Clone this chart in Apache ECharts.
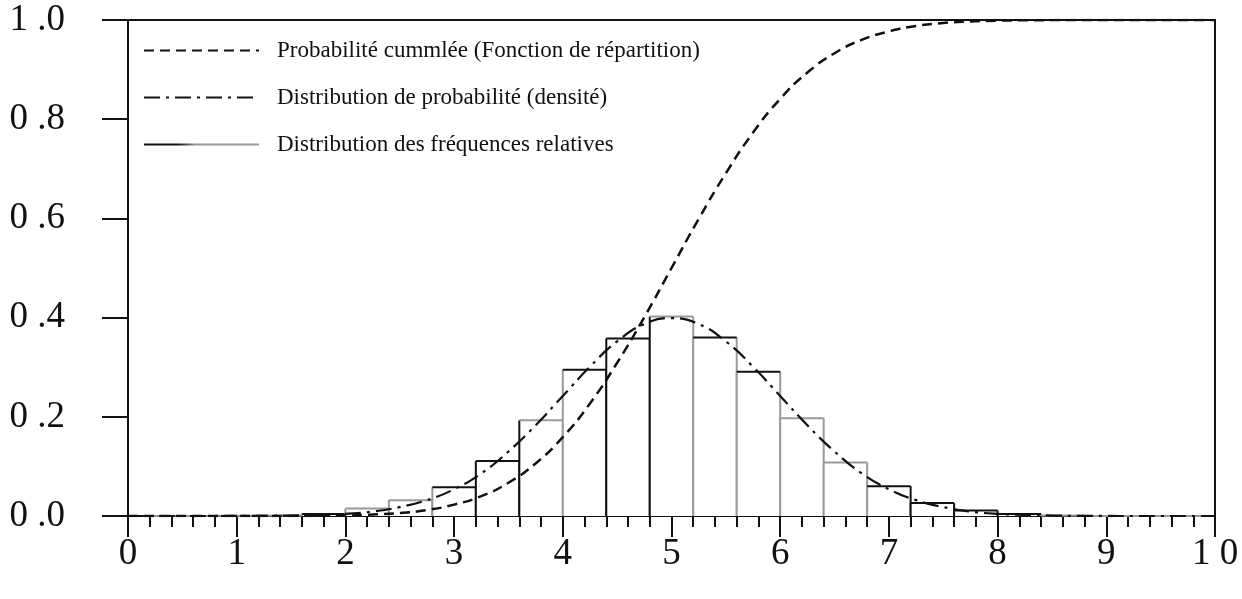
<!DOCTYPE html>
<html>
<head>
<meta charset="utf-8">
<script src="https://cdn.jsdelivr.net/npm/echarts@6/dist/echarts.min.js"></script>
<style>
  html, body { margin: 0; padding: 0; background: #ffffff; }
  #chart { width: 1242px; height: 599px; }
</style>
</head>
<body>
<div id="chart"></div>
<script>
// ---- Data ----
const legendNames = [
  'Probabilité cummlée (Fonction de répartition)',
  'Distribution de probabilité (densité)',
  'Distribution des fréquences relatives'
];
// histogram bins (left edge, right edge) and relative frequencies
const binStart = [0, 0.4, 0.8, 1.2, 1.6, 2.0, 2.4, 2.8, 3.2, 3.6, 4.0, 4.4, 4.8, 5.2, 5.6, 6.0, 6.4, 6.8, 7.2, 7.6, 8.0, 8.4, 8.8, 9.2, 9.6];
const binEnd   = [0.4, 0.8, 1.2, 1.6, 2.0, 2.4, 2.8, 3.2, 3.6, 4.0, 4.4, 4.8, 5.2, 5.6, 6.0, 6.4, 6.8, 7.2, 7.6, 8.0, 8.4, 8.8, 9.2, 9.6, 10.0];
const binFreq  = [0, 0, 0.0005, 0.001, 0.004, 0.015, 0.032, 0.058, 0.111, 0.193, 0.295, 0.358, 0.402, 0.360, 0.291, 0.197, 0.108, 0.060, 0.026, 0.011, 0.004, 0.001, 0, 0, 0];
// curves sampled every 0.25
const curveX = [0, 0.25, 0.5, 0.75, 1, 1.25, 1.5, 1.75, 2, 2.25, 2.5, 2.75, 3, 3.25, 3.5, 3.75, 4, 4.25, 4.5, 4.75, 5,
                5.25, 5.5, 5.75, 6, 6.25, 6.5, 6.75, 7, 7.25, 7.5, 7.75, 8, 8.25, 8.5, 8.75, 9, 9.25, 9.5, 9.75, 10];
const densityY = [0, 0, 0, 0, 0.0001, 0.0004, 0.0009, 0.002, 0.0044, 0.009, 0.018, 0.032, 0.054, 0.086, 0.13, 0.183, 0.242, 0.301, 0.352, 0.387, 0.399,
                  0.387, 0.352, 0.301, 0.242, 0.183, 0.13, 0.086, 0.054, 0.032, 0.018, 0.009, 0.0044, 0.002, 0.0009, 0.0004, 0.0001, 0, 0, 0, 0];
const cdfY = [0, 0, 0, 0, 0, 0, 0, 0.0006, 0.0013, 0.003, 0.006, 0.012, 0.023, 0.040, 0.067, 0.106, 0.159, 0.227, 0.309, 0.401, 0.5,
              0.599, 0.691, 0.773, 0.841, 0.894, 0.933, 0.960, 0.977, 0.988, 0.994, 0.997, 0.9987, 0.9994, 0.9998, 1, 1, 1, 1, 1, 1];
const xTicks = ['0', '1', '2', '3', '4', '5', '6', '7', '8', '9', '1 0'];
const yTicks = ['0 .0', '0 .2', '0 .4', '0 .6', '0 .8', '1 .0'];

// ---- Styles (separate from data) ----
const BLACK = '#111111';
const GREY = '#9a9a9a';
// colour of each vertical bin boundary (26 boundaries) and of each bin top
const edgeColors = [GREY, GREY, GREY, GREY, GREY, GREY, GREY, GREY, BLACK, BLACK, GREY, BLACK, BLACK, GREY, GREY, GREY, GREY, GREY, BLACK, BLACK, BLACK, GREY, GREY, GREY, GREY, GREY];
const topColors  = [GREY, GREY, GREY, GREY, BLACK, GREY, GREY, BLACK, BLACK, GREY, BLACK, BLACK, GREY, BLACK, BLACK, GREY, GREY, BLACK, BLACK, BLACK, BLACK, GREY, GREY, GREY, GREY];

const serif = '"Liberation Serif", "DejaVu Serif", serif';

const histData = binStart.map((s, i) => [s, binEnd[i], binFreq[i], i]);
const densityData = curveX.map((x, i) => [x, densityY[i]]);
const cdfData = curveX.map((x, i) => [x, cdfY[i]]);

const chart = echarts.init(document.getElementById('chart'), null, { renderer: 'canvas' });

chart.setOption({
  animation: false,
  backgroundColor: '#ffffff',
  grid: {
    left: 128, right: 27, top: 20, bottom: 83,
    show: true, borderColor: BLACK, borderWidth: 2, backgroundColor: 'transparent'
  },
  legend: {
    data: legendNames,
    orient: 'vertical',
    left: 138,
    top: 34,
    itemWidth: 115,
    itemHeight: 20,
    itemGap: 24,
    selectedMode: false,
    itemStyle: { color: 'transparent', borderColor: 'transparent', borderWidth: 0, opacity: 0 },
    textStyle: { fontFamily: serif, fontSize: 23, color: BLACK, padding: [0, 0, 0, 13] }
  },
  xAxis: {
    type: 'value',
    min: 0, max: 10, interval: 1,
    axisLine: { show: true, lineStyle: { color: BLACK, width: 2 } },
    axisTick: { show: true, length: 21, lineStyle: { color: BLACK, width: 2 } },
    minorTick: { show: true, splitNumber: 5, length: 11, lineStyle: { color: BLACK, width: 2 } },
    splitLine: { show: false },
    axisLabel: {
      margin: 20, fontFamily: serif, fontSize: 37, color: BLACK,
      formatter: (v) => xTicks[Math.round(v)]
    }
  },
  yAxis: {
    type: 'value',
    min: 0, max: 1, interval: 0.2,
    axisLine: { show: true, lineStyle: { color: BLACK, width: 2 } },
    axisTick: { show: true, length: 26, lineStyle: { color: BLACK, width: 2 } },
    splitLine: { show: false },
    axisLabel: {
      margin: 63, fontFamily: serif, fontSize: 37, color: BLACK,
      formatter: (v) => yTicks[Math.round(v * 5)]
    }
  },
  series: [
    {
      name: 'histogramme',
      type: 'custom',
      encode: { x: [0, 1], y: 2 },
      data: histData,
      z: 2,
      renderItem: function (params, api) {
        const x0 = api.value(0), x1 = api.value(1), y = api.value(2), idx = api.value(3);
        const p0 = api.coord([x0, 0]);
        const p1 = api.coord([x1, y]);
        return {
          type: 'group',
          children: [
            { type: 'rect', shape: { x: p0[0], y: p1[1], width: p1[0] - p0[0], height: p0[1] - p1[1] },
              style: { fill: '#ffffff', stroke: null } },
            { type: 'line', shape: { x1: p0[0], y1: p0[1], x2: p0[0], y2: p1[1] },
              style: { stroke: edgeColors[idx], lineWidth: 2 } },
            { type: 'line', shape: { x1: p1[0], y1: p0[1], x2: p1[0], y2: p1[1] },
              style: { stroke: edgeColors[idx + 1], lineWidth: 2 } },
            { type: 'line', shape: { x1: p0[0], y1: p1[1], x2: p1[0], y2: p1[1] },
              style: { stroke: topColors[idx], lineWidth: 2 } }
          ]
        };
      }
    },
    {
      name: legendNames[0],
      type: 'line',
      data: cdfData,
      smooth: true,
      symbol: 'none',
      z: 4,
      lineStyle: { color: BLACK, width: 2.5, type: [10, 6] },
      itemStyle: { color: BLACK }
    },
    {
      name: legendNames[1],
      type: 'line',
      data: densityData,
      smooth: true,
      symbol: 'none',
      z: 4,
      lineStyle: { color: BLACK, width: 2.2, type: [16, 6, 3, 6] },
      itemStyle: { color: BLACK }
    },
    {
      name: legendNames[2],
      type: 'line',
      data: [],
      symbol: 'none',
      lineStyle: {
        width: 3,
        color: new echarts.graphic.LinearGradient(0, 0, 1, 0, [
          { offset: 0, color: BLACK }, { offset: 0.3, color: BLACK },
          { offset: 0.45, color: GREY }, { offset: 1, color: GREY }
        ])
      },
      itemStyle: { color: GREY }
    }
  ]
});
</script>
</body>
</html>
